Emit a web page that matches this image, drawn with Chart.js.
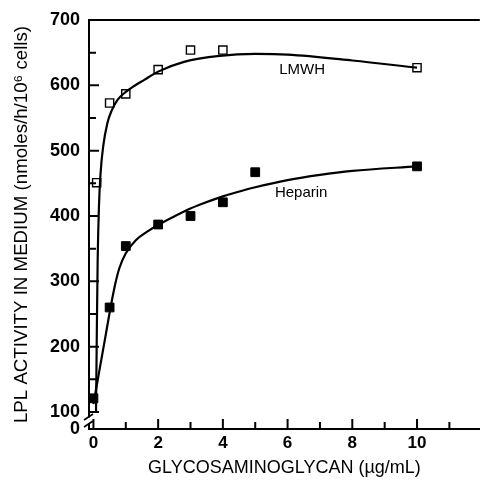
<!DOCTYPE html>
<html>
<head>
<meta charset="utf-8">
<script src="https://cdn.jsdelivr.net/npm/chart.js@4.4.1/dist/chart.umd.min.js"></script>
<style>
  html, body { margin: 0; padding: 0; background: #fff; }
  canvas { display: block; }
</style>
</head>
<body>
<canvas id="chart-lpl" width="487" height="480"></canvas>
<script>
// Measured LPL activity (nmoles/h/10^6 cells) vs glycosaminoglycan dose (ug/mL)
const lmwhDoses = [0.1, 0.5, 1, 2, 3, 4, 10];
const lmwhActivity = [451, 573, 587, 624, 654, 654, 627];
const heparinDoses = [0, 0.5, 1, 2, 3, 4, 5, 10];
const heparinActivity = [121, 260, 354, 387, 400, 421, 467, 476];

// Fitted curves through each series
const lmwhFitX = [0.08, 0.1, 0.13, 0.17, 0.22, 0.3, 0.43, 0.57, 0.75, 1.0, 1.26, 1.56, 2.0, 2.8, 3.9, 5, 6, 8, 10];
const lmwhFitY = [100, 200, 330, 414, 465, 506, 542, 562, 578, 590, 599, 608, 621, 636, 645, 648, 647, 638, 627];
const heparinFitX = [0, 0.2, 0.38, 0.5, 0.67, 0.8, 1.0, 1.31, 1.66, 2.02, 2.52, 2.98, 3.38, 4, 4.4, 5, 6, 7, 8, 10];
const heparinFitY = [112, 168, 218, 252, 295, 320, 343, 363, 376, 387, 400, 411, 419, 430, 436, 444, 455, 463, 469, 476];

const yTickValues = [0, 100, 200, 300, 400, 500, 600, 700];
const xTickValues = [0, 2, 4, 6, 8, 10];
const Y_BREAK = 74; // axis is broken below 100; "0" sits at the bottom edge

const seriesLabels = [
  { text: "LMWH", x: 6.45, y: 623 },
  { text: "Heparin", x: 6.42, y: 436 },
];

const FONT = '"Liberation Sans", Arial, sans-serif';
const toXY = (xs, ys) => xs.map((x, i) => ({ x, y: ys[i] }));

// frame top, inward tick marks, axis break and in-plot labels
const decorations = {
  id: "decorations",
  afterDraw(chart) {
    const { ctx, chartArea: a, scales: { x, y } } = chart;
    ctx.save();
    ctx.strokeStyle = "#000";
    ctx.lineWidth = 2;
    ctx.beginPath();
    ctx.moveTo(a.left, a.top);
    ctx.lineTo(a.right, a.top);
    for (let v = 100; v <= 700; v += 50) {
      const py = y.getPixelForValue(v);
      ctx.moveTo(a.left, py);
      ctx.lineTo(a.left + (v % 100 === 0 ? 10 : 7), py);
    }
    for (let v = 0; v <= 11; v++) {
      const px = x.getPixelForValue(v);
      ctx.moveTo(px, a.bottom);
      ctx.lineTo(px, a.bottom - (v % 2 === 0 ? 10 : 7));
    }
    ctx.stroke();

    // "//" break on the y axis
    const by = (y.getPixelForValue(100) + a.bottom) / 2;
    ctx.fillStyle = "#fff";
    ctx.fillRect(a.left - 2, by - 3, 4, 6);
    ctx.lineWidth = 1.6;
    ctx.beginPath();
    [-3.5, 3.5].forEach((d) => {
      ctx.moveTo(a.left - 5, by + d + 3);
      ctx.lineTo(a.left + 4, by + d - 3);
    });
    ctx.stroke();

    ctx.fillStyle = "#000";
    ctx.font = "15px " + FONT;
    ctx.textAlign = "center";
    ctx.textBaseline = "middle";
    seriesLabels.forEach((l) => {
      ctx.fillText(l.text, x.getPixelForValue(l.x), y.getPixelForValue(l.y));
    });
    ctx.restore();
  },
};

new Chart(document.getElementById("chart-lpl"), {
  type: "scatter",
  data: {
    datasets: [
      {
        data: toXY(lmwhFitX, lmwhFitY),
        showLine: true,
        cubicInterpolationMode: "monotone",
        borderColor: "#000",
        borderWidth: 2.2,
        pointRadius: 0,
      },
      {
        data: toXY(heparinFitX, heparinFitY),
        showLine: true,
        cubicInterpolationMode: "monotone",
        borderColor: "#000",
        borderWidth: 2.2,
        pointRadius: 0,
      },
      {
        label: "LMWH",
        data: toXY(lmwhDoses, lmwhActivity),
        pointStyle: "rect",
        pointRadius: 5.8,
        backgroundColor: "#fff",
        borderColor: "#000",
        borderWidth: 1.4,
      },
      {
        label: "Heparin",
        data: toXY(heparinDoses, heparinActivity),
        pointStyle: "rect",
        pointRadius: 6.2,
        backgroundColor: "#000",
        borderColor: "#000",
        borderWidth: 1,
      },
    ],
  },
  options: {
    responsive: false,
    animation: false,
    layout: { padding: { left: 0, top: 20, right: 0, bottom: 0 } },
    plugins: { legend: { display: false }, tooltip: { enabled: false } },
    scales: {
      x: {
        type: "linear",
        min: -0.137,
        max: 11.94,
        afterBuildTicks: (s) => { s.ticks = xTickValues.map((v) => ({ value: v })); },
        afterFit: (s) => { s.height = 51; },
        grid: { display: false, drawTicks: false, tickLength: 0 },
        border: { display: true, color: "#000", width: 2 },
        ticks: { color: "#000", padding: 4, maxRotation: 0, autoSkip: false, font: { family: FONT, size: 17, weight: "bold" } },
        title: {
          display: true,
          text: "GLYCOSAMINOGLYCAN (µg/mL)",
          color: "#000",
          padding: { top: 0, bottom: 1 },
          font: { family: FONT, size: 18 },
        },
      },
      y: {
        type: "linear",
        min: Y_BREAK,
        max: 700,
        afterBuildTicks: (s) => {
          s.ticks = yTickValues.map((v) => ({ value: v === 0 ? Y_BREAK : v }));
        },
        afterFit: (s) => { s.width = 89; },
        grid: { display: false, drawTicks: false, tickLength: 0 },
        border: { display: true, color: "#000", width: 2 },
        ticks: {
          color: "#000",
          padding: 9,
          autoSkip: false,
          font: { family: FONT, size: 18, weight: "bold" },
          callback: (v) => (v === Y_BREAK ? "0" : v),
        },
        title: {
          display: true,
          text: "LPL ACTIVITY IN MEDIUM (nmoles/h/10⁶ cells)",
          color: "#000",
          padding: { top: 11, bottom: 0 },
          font: { family: FONT, size: 18.7 },
        },
      },
    },
  },
  plugins: [decorations],
});
</script>
</body>
</html>
